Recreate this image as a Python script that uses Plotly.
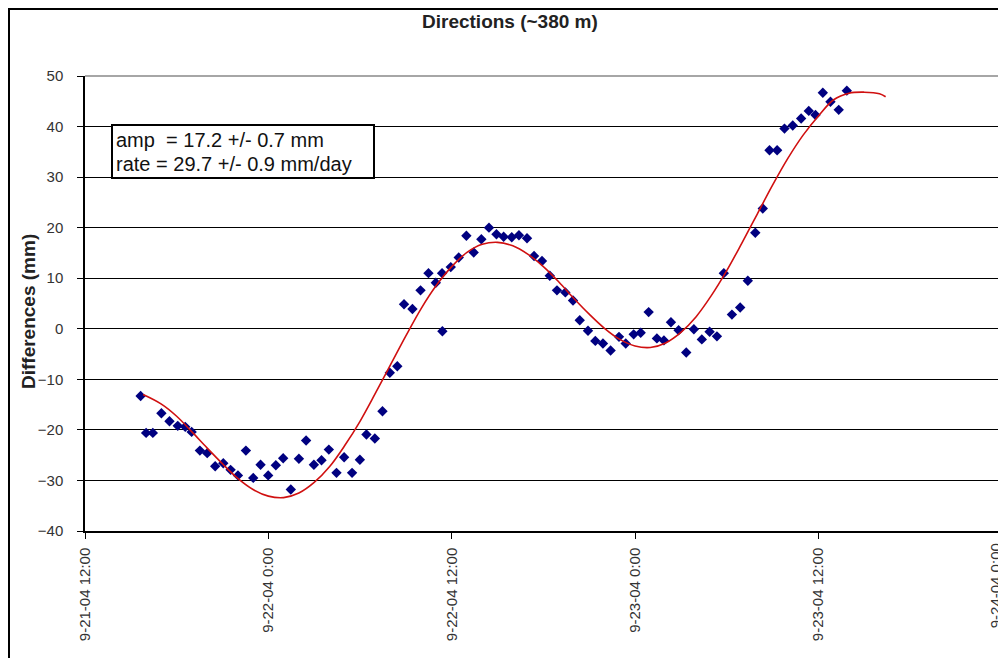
import pandas as pd
import plotly.graph_objects as go

# ---- data ----
base_time = "2004-09-21 12:00"

obs_hours = [3.64, 4.00, 4.44, 5.00, 5.53, 6.07, 6.56, 6.98, 7.52, 8.00, 8.52, 9.05, 9.53, 10.01,
             10.53, 11.01, 11.49, 11.99, 12.49, 12.97, 13.47, 14.00, 14.47, 14.98, 15.48, 15.96,
             16.46, 16.96, 17.48, 17.99, 18.42, 18.97, 19.47, 19.95, 20.44, 20.88, 21.43, 21.96,
             22.48, 22.96, 23.37, 23.39, 23.94, 24.46, 24.96, 25.44, 25.94, 26.44, 26.93, 27.40,
             27.93, 28.40, 28.93, 29.39, 29.91, 30.42, 30.89, 31.44, 31.94, 32.38, 32.92, 33.40,
             33.90, 34.40, 34.95, 35.39, 35.91, 36.37, 36.89, 37.43, 37.89, 38.35, 38.85, 39.35,
             39.85, 40.37, 40.88, 41.36, 41.81, 42.34, 42.88, 43.38, 43.87, 44.36, 44.80, 45.30,
             45.78, 46.32, 46.87, 47.37, 47.81, 48.29, 48.79, 49.33, 49.86]
obs_mm = [-13.3, -20.6, -20.6, -16.7, -18.3, -19.2, -19.4, -20.4, -24.1, -24.6, -27.2, -26.6, -27.9, -29.0,
          -24.1, -29.5, -26.9, -29.0, -27.0, -25.6, -31.8, -25.7, -22.1, -26.9, -26.0, -23.9,
          -28.5, -25.4, -28.5, -25.9, -20.9, -21.7, -16.3, -8.7, -7.4, 4.85, 3.9, 7.6,
          11.0, 9.1, 11.0, -0.5, 12.2, 14.1, 18.4, 15.1, 17.7, 20.0, 18.7, 18.2,
          18.1, 18.5, 17.9, 14.4, 13.4, 10.5, 7.6, 7.2, 5.6, 1.7, -0.4, -2.4,
          -2.9, -4.3, -1.6, -2.9, -1.1, -0.8, 3.3, -1.9, -2.3, 1.3, -0.3, -4.7,
          -0.1, -2.1, -0.6, -1.5, 11.0, 2.8, 4.2, 9.5, 19.0, 23.8, 35.3, 35.3,
          39.6, 40.2, 41.6, 43.1, 42.3, 46.7, 44.9, 43.3, 47.1]

fit_hours = [3.8, 5, 6, 7, 8, 9, 10, 11, 12, 13, 14, 15, 16, 17, 18, 19, 20, 21, 22, 23, 24, 25, 26,
             27, 28, 29, 30, 31, 32, 33, 34, 35, 36, 37, 38, 39, 40, 41, 42, 43, 44, 45, 46, 47,
             48, 49, 50, 51, 52, 52.4]
fit_mm = [-13.0, -14.9, -17.3, -20.4, -23.6, -26.7, -29.6, -31.8, -33.1, -33.4, -32.5, -30.4, -27.3,
          -23.1, -18.3, -12.8, -7.1, -1.4, 4.0, 8.6, 12.3, 15.1, 16.7, 17.1, 16.4, 14.7, 12.3, 9.3,
          6.0, 2.9, 0.1, -2.1, -3.4, -3.7, -2.8, -0.7, 2.4, 6.6, 11.5, 17.0, 22.7, 28.4, 33.7,
          38.3, 42.1, 45.3, 46.6, 46.8, 46.5, 45.9]

tick_times = ["2004-09-21 12:00", "2004-09-22 00:00", "2004-09-22 12:00",
              "2004-09-23 00:00", "2004-09-23 12:00", "2004-09-24 00:00"]
tick_labels = ["9-21-04 12:00", "9-22-04 0:00", "9-22-04 12:00",
               "9-23-04 0:00", "9-23-04 12:00", "9-24-04 0:00"]
x_range = ["2004-09-21 12:00", "2004-09-24 00:01"]

title_text = "Directions (~380 m)"
ytitle_text = "Differences (mm)"
box_lines = ["amp\u00a0\u00a0= 17.2 +/- 0.7 mm", "rate = 29.7 +/- 0.9 mm/day"]

# ---- build ----
t0 = pd.Timestamp(base_time)
obs_x = t0 + pd.to_timedelta(obs_hours, unit="h")
fit_x = t0 + pd.to_timedelta(fit_hours, unit="h")

OFF = 8  # page body margin of the browser
W, H = 1006 - OFF, 666 - 2 * OFF
# plot area in screen pixels: x 85..1002, y 76..531
L, T = 85 - OFF, 76 - OFF
R = W - (1002 - OFF)
B = H - (531 - OFF)
pw, ph = W - L - R, H - T - B


def px(x):  # screen pixel -> paper x
    return (x - OFF - L) / pw


def py(y):  # screen pixel -> paper y
    return (H - B - (y - OFF)) / ph


FONT = "Liberation Sans, Arial, sans-serif"
TICKFONT = dict(size=15, color="#333", family=FONT)

# the last tick label sits at the window edge: draw it as an annotation nudged inside
axis_ticktext = tick_labels[:-1] + [""]

fig = go.Figure()
fig.add_trace(go.Scatter(x=obs_x, y=obs_mm, mode="markers",
                         marker=dict(symbol="diamond", size=8, color="#000080",
                                     line=dict(width=0)),
                         showlegend=False, hoverinfo="x+y"))
fig.add_trace(go.Scatter(x=fit_x, y=fit_mm, mode="lines", line_shape="spline",
                         line=dict(color="#D01010", width=1.6),
                         showlegend=False))

fig.update_layout(
    width=W, height=H,
    margin=dict(l=L, r=R, t=T, b=B, autoexpand=False),
    paper_bgcolor="white", plot_bgcolor="white",
    font=dict(family=FONT, color="#222"),
    xaxis=dict(type="date", range=x_range,
               tickvals=tick_times, ticktext=axis_ticktext, tickangle=-90,
               tickfont=TICKFONT, ticklabelstandoff=3,
               showgrid=False, zeroline=False, showline=True, linecolor="black",
               linewidth=1.5, ticks="outside", ticklen=6, tickcolor="black"),
    yaxis=dict(range=[-40, 50], dtick=10, tickmode="linear", tick0=-40,
               tickfont=TICKFONT, ticklabelstandoff=11,
               showgrid=True, gridcolor="black", gridwidth=1.2,
               zeroline=False, showline=True, linecolor="black", linewidth=1.5,
               ticks="outside", ticklen=6, tickcolor="black"),
    shapes=[
        # outer chart frame (its top-left corner sits at the page edge)
        dict(type="rect", xref="paper", yref="paper",
             x0=px(OFF + 1), x1=px(1040), y0=py(720), y1=py(OFF + 1),
             line=dict(color="black", width=2), layer="below"),
        # plot area top/right border (gray)
        dict(type="line", xref="paper", yref="paper", x0=0, x1=1, y0=1, y1=1,
             line=dict(color="#888888", width=1.5)),
        dict(type="line", xref="paper", yref="paper", x0=1, x1=1, y0=0, y1=1,
             line=dict(color="#888888", width=1.5)),
        # stats box
        dict(type="rect", xref="paper", yref="paper",
             x0=px(112), x1=px(374), y0=py(178), y1=py(125),
             line=dict(color="black", width=2), fillcolor="white", layer="above"),
    ],
    annotations=[
        dict(text="<b>%s</b>" % title_text, xref="paper", yref="paper",
             x=px(510), y=py(22), xanchor="center", yanchor="middle",
             showarrow=False, font=dict(size=19, color="#222")),
        dict(text="<b>%s</b>" % ytitle_text, xref="paper", yref="paper",
             x=px(28), y=py(312), xanchor="center", yanchor="middle",
             textangle=-90, showarrow=False, font=dict(size=19, color="#222")),
        dict(text=box_lines[0], xref="paper", yref="paper",
             x=px(114), y=py(140), xanchor="left", yanchor="middle",
             showarrow=False, font=dict(size=20, color="#111")),
        dict(text=box_lines[1], xref="paper", yref="paper",
             x=px(114), y=py(164), xanchor="left", yanchor="middle",
             showarrow=False, font=dict(size=20, color="#111")),
        dict(text=tick_labels[-1], xref="x", yref="paper",
             x=tick_times[-1], y=py(541), xanchor="center", yanchor="top",
             xshift=-6, textangle=-90, showarrow=False, font=TICKFONT),
    ],
)

fig.write_html("out.html")
